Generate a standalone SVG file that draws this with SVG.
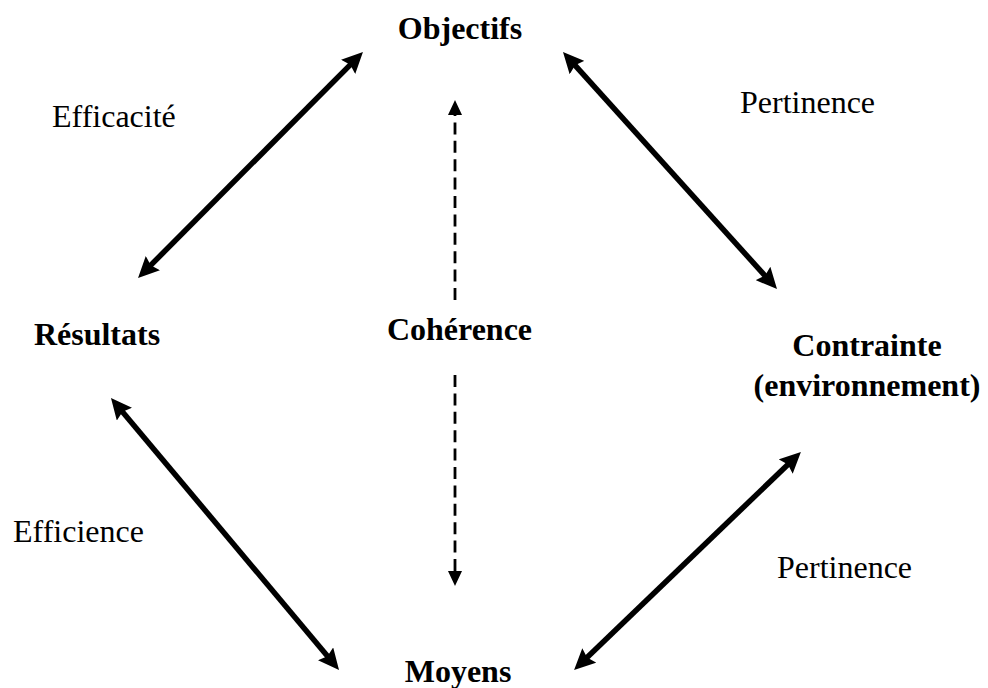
<svg xmlns="http://www.w3.org/2000/svg" width="988" height="688" viewBox="0 0 988 688">
  <style>
    .node { font-family: "Liberation Serif", "Times New Roman", serif; font-size: 32px; font-weight: bold; fill: #000; text-anchor: middle; }
    .label { font-family: "Liberation Serif", "Times New Roman", serif; font-size: 32px; fill: #000; }
    .link { stroke: #000; stroke-width: 5.5; fill: none; marker-start: url(#head); marker-end: url(#head); }
    .dash { stroke: #000; stroke-width: 2.8; fill: none; stroke-dasharray: 12 6.4; marker-end: url(#small-head); }
  </style>
  <defs>
    <!-- Solid double-headed arrow tip; lines stop 10px short of the point -->
    <marker id="head" viewBox="0 0 21 20" markerWidth="21" markerHeight="20" refX="11" refY="10" markerUnits="userSpaceOnUse" orient="auto-start-reverse">
      <path d="M0,0 L21,10 L0,20 L3,10 z" fill="#000"/>
    </marker>
    <marker id="small-head" viewBox="0 0 15 14" markerWidth="15" markerHeight="14" refX="1" refY="7" markerUnits="userSpaceOnUse" orient="auto">
      <path d="M0,0 L15,7 L0,14 z" fill="#000"/>
    </marker>
  </defs>

  <rect width="988" height="688" fill="#fff"/>

  <g id="connectors">
    <!-- Résultats <-> Objectifs -->
    <line class="link" x1="145.1" y1="270.9" x2="355.9" y2="59.1"/>
    <!-- Objectifs <-> Contrainte -->
    <line class="link" x1="569.7" y1="59.4" x2="770.3" y2="281.6"/>
    <!-- Résultats <-> Moyens -->
    <line class="link" x1="117.4" y1="405.7" x2="332.6" y2="662.3"/>
    <!-- Moyens <-> Contrainte -->
    <line class="link" x1="581.3" y1="663.1" x2="793.7" y2="458.9"/>
    <!-- Cohérence, upward and downward -->
    <line class="dash" x1="455" y1="300" x2="455" y2="114"/>
    <line class="dash" x1="455" y1="375" x2="455" y2="572"/>

    <text class="label" x="52" y="127">Efficacité</text>
    <text class="label" x="740" y="113">Pertinence</text>
    <text class="label" x="13" y="542">Efficience</text>
    <text class="label" x="777" y="578">Pertinence</text>
  </g>

  <g id="objectifs"><text class="node" x="460" y="39">Objectifs</text></g>
  <g id="resultats"><text class="node" x="97" y="345">Résultats</text></g>
  <g id="coherence"><text class="node" x="459.5" y="340">Cohérence</text></g>
  <g id="contrainte">
    <text class="node" x="867" y="356">Contrainte</text>
    <text class="node" x="867" y="396">(environnement)</text>
  </g>
  <g id="moyens"><text class="node" x="458" y="682">Moyens</text></g>
</svg>
